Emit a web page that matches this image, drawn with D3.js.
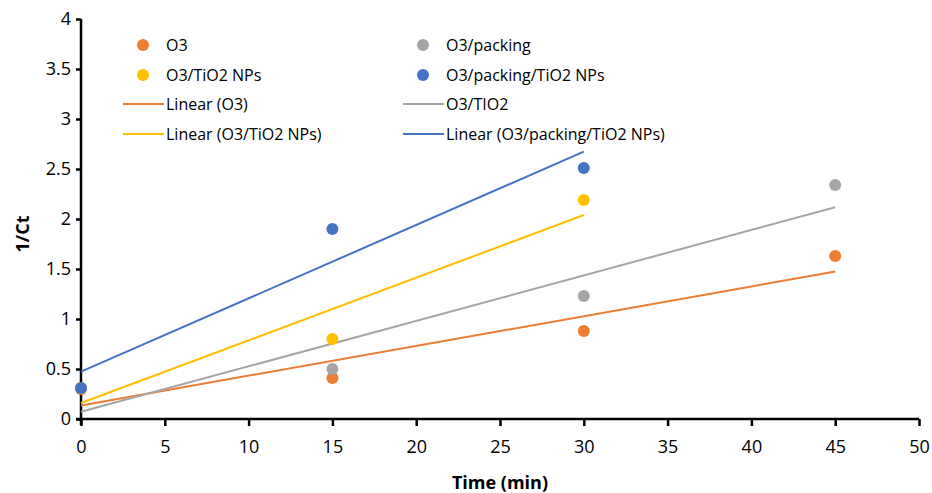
<!DOCTYPE html>
<html>
<head>
<meta charset="utf-8">
<script src="https://cdn.jsdelivr.net/npm/d3@7"></script>
<style>
  body { margin: 0; background: #fff; }
  text { font-family: "Open Sans", Lato, sans-serif; fill: #000; }
  .axis line { stroke: #000; stroke-width: 2.5px; }
  .axis text { font-size: 18px; }
</style>
</head>
<body>
<div id="chart"></div>
<script>
// time points (min)
const times = [0, 15, 30, 45];

// 1/Ct values
const o3 = [0.30, 0.41, 0.88, 1.63];
const o3Packing = [0.31, 0.50, 1.23, 2.34];
const o3TiO2 = [0.31, 0.80, 2.19];
const o3PackingTiO2 = [0.31, 1.90, 2.51];

const xTicks = [0, 5, 10, 15, 20, 25, 30, 35, 40, 45, 50];
const yTicks = [0, 0.5, 1, 1.5, 2, 2.5, 3, 3.5, 4];

const series = [
  { name: "O3", trend: "Linear (O3)", values: o3, color: "#ED7D31" },
  { name: "O3/packing", trend: "O3/TIO2", values: o3Packing, color: "#A5A5A5" },
  { name: "O3/TiO2 NPs", trend: "Linear (O3/TiO2 NPs)", values: o3TiO2, color: "#FFC000" },
  { name: "O3/packing/TiO2 NPs", trend: "Linear (O3/packing/TiO2 NPs)", values: o3PackingTiO2, color: "#4472C4" }
];

let width = 932;
let height = 493;

let xScale = d3.scaleLinear().domain([0, 50]).range([81, 919]);
let yScale = d3.scaleLinear().domain([0, 4]).range([419, 19]);

let svg = d3.select("#chart")
  .append("svg")
  .attr("width", width)
  .attr("height", height);

/* least squares fit, like the excel trendline */
function fit(values) {
  let xs = times.slice(0, values.length);
  let mx = d3.mean(xs), my = d3.mean(values);
  let num = d3.sum(xs, (x, i) => (x - mx) * (values[i] - my));
  let den = d3.sum(xs, x => (x - mx) * (x - mx));
  let slope = num / den;
  let b = my - slope * mx;
  return [{ x: xs[0], y: b + slope * xs[0] }, { x: xs[xs.length - 1], y: b + slope * xs[xs.length - 1] }];
}

/* axes */
svg.append("g")
  .attr("class", "x axis")
  .attr("transform", `translate(0, ${yScale(0)})`)
  .call(d3.axisBottom(xScale).tickValues(xTicks).tickSize(7).tickSizeOuter(0).tickPadding(14));

svg.append("g")
  .attr("class", "y axis")
  .attr("transform", `translate(${xScale(0)}, 0)`)
  .call(d3.axisLeft(yScale).tickValues(yTicks).tickFormat(d3.format("~g")).tickSize(5).tickSizeOuter(0).tickPadding(5));

svg.selectAll(".axis .domain").remove();
svg.append("line").attr("x1", 76).attr("x2", xScale(50))
  .attr("y1", yScale(0)).attr("y2", yScale(0))
  .attr("stroke", "#000").attr("stroke-width", 2.5);
svg.append("line").attr("x1", xScale(0)).attr("x2", xScale(0))
  .attr("y1", yScale(4)).attr("y2", yScale(0) + 6)
  .attr("stroke", "#000").attr("stroke-width", 2.5);

/* trendlines */
let line = d3.line().x(d => xScale(d.x)).y(d => yScale(d.y));
svg.append("g")
  .selectAll("path")
  .data(series)
  .enter()
  .append("path")
  .attr("d", d => line(fit(d.values)))
  .attr("fill", "none")
  .attr("stroke", d => d.color)
  .attr("stroke-width", 2);

/* points */
series.forEach(s => {
  svg.append("g")
    .selectAll("circle")
    .data(s.values)
    .enter()
    .append("circle")
    .attr("cx", (d, i) => xScale(times[i]))
    .attr("cy", d => yScale(d))
    .attr("r", 6)
    .attr("fill", s.color);
});

/* legend */
let legend = svg.append("g").style("font-size", "16px");
let cols = [143, 423];
let rowY = [45, 75, 104, 134];
series.forEach((s, i) => {
  let cx = cols[i % 2];
  let cy = rowY[Math.floor(i / 2)];
  legend.append("circle").attr("cx", cx).attr("cy", cy).attr("r", 6).attr("fill", s.color);
  legend.append("text").attr("x", cx + 23).attr("y", cy).attr("dy", "0.35em").text(s.name);

  let ly = rowY[2 + Math.floor(i / 2)];
  legend.append("line").attr("x1", cx - 20).attr("x2", cx + 21)
    .attr("y1", ly).attr("y2", ly)
    .attr("stroke", s.color).attr("stroke-width", 2);
  legend.append("text").attr("x", cx + 23).attr("y", ly).attr("dy", "0.35em").text(s.trend);
});

/* axis titles */
svg.append("text")
  .attr("x", 500)
  .attr("y", 489)
  .attr("text-anchor", "middle")
  .style("font-size", "18px")
  .style("font-weight", "bold")
  .text("Time (min)");

svg.append("text")
  .attr("transform", `translate(29, 234) rotate(-90)`)
  .attr("text-anchor", "middle")
  .style("font-size", "18px")
  .style("font-weight", "bold")
  .text("1/Ct");
</script>
</body>
</html>
